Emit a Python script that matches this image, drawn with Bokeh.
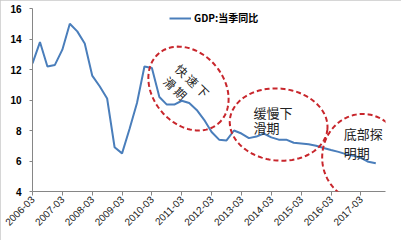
import numpy as np
from bokeh.plotting import figure
from bokeh.models import (Range1d, FixedTicker, Label, PolyAnnotation, Legend, LegendItem)
from bokeh.embed import file_html
from bokeh.resources import INLINE

# ---- data ----
years = list(range(2006, 2018))
months = ["03", "06", "09", "12"]
quarters = [f"{y}-{m}" for y in years for m in months]
gdp_yoy = [12.4, 13.8, 12.2, 12.3, 13.3, 15.0, 14.5, 13.7, 11.6, 10.9,
           10.1, 6.9, 6.5, 8.1, 9.8, 12.2, 12.1, 10.2, 9.7, 9.7,
           9.95, 9.8, 9.35, 8.7, 7.9, 7.4, 7.35, 8.0, 7.8, 7.5,
           7.6, 7.8, 7.55, 7.4, 7.4, 7.2, 7.15, 7.1, 7.0, 6.85,
           6.72, 6.6, 6.45, 6.35, 6.2, 5.95, 5.85]
series_name = "GDP:当季同比"
tick_labels = ["2006-03", "2007-03", "2008-03", "2009-03", "2010-03", "2011-03",
               "2012-03", "2013-03", "2014-03", "2015-03", "2016-03", "2017-03"]
y_ticks = [4, 6, 8, 10, 12, 14, 16]

W, H = 401, 240
L, R, T, B = 32, 16, 8, 49
XMAX = 47.3
p = figure(width=W, height=H, output_backend="svg", toolbar_location=None,
           x_range=Range1d(0, XMAX), y_range=Range1d(4, 16),
           min_border_left=L, min_border_right=R, min_border_top=T, min_border_bottom=B)
p.styles = {"outline": "2px solid #C8C8C8", "outline-offset": "-2px"}
p.outline_line_color = None
p.xgrid.visible = False
p.ygrid.visible = False
p.background_fill_color = "white"
p.border_fill_color = "white"

xs = list(range(len(gdp_yoy)))
r = p.line(xs, gdp_yoy, line_color="#4A7EBB", line_width=2)

# axes
tick_pos = [quarters.index(t) for t in tick_labels]
p.xaxis.ticker = FixedTicker(ticks=tick_pos)
p.xaxis.major_label_overrides = {i: t for i, t in zip(tick_pos, tick_labels)}
p.xaxis.major_label_orientation = np.pi / 4
p.xaxis.major_label_text_font = "Liberation Sans"
p.xaxis.major_label_text_font_size = "10px"
p.xaxis.major_label_text_color = "#222222"
p.xaxis.major_label_standoff = 2
p.xaxis.major_tick_out = 4
p.xaxis.major_tick_in = 0
p.xaxis.minor_tick_line_color = None
p.xaxis.axis_line_color = "#868686"
p.xaxis.major_tick_line_color = "#868686"

p.yaxis.ticker = FixedTicker(ticks=y_ticks)
p.yaxis.major_label_text_font = "Liberation Sans"
p.yaxis.major_label_text_font_style = "bold"
p.yaxis.major_label_text_font_size = "10px"
p.yaxis.major_label_text_color = "#000000"
p.yaxis.major_label_standoff = 8
p.yaxis.major_tick_out = 3
p.yaxis.major_tick_in = 0
p.yaxis.minor_tick_line_color = None
p.yaxis.axis_line_color = "#868686"
p.yaxis.major_tick_line_color = "#868686"

# pixel scale for annotation geometry
fw, fh = W - L - R, H - T - B
sx, sy = fw / XMAX, fh / 12.0

def ellipse_poly(cx, cy, a, b, theta_deg):
    t = np.linspace(0, 2 * np.pi, 120)
    th = np.deg2rad(theta_deg)
    dx = a * np.cos(t) * np.cos(th) - b * np.sin(t) * np.sin(th)
    dy = a * np.cos(t) * np.sin(th) + b * np.sin(t) * np.cos(th)
    return list(cx + dx / sx), list(cy + dy / sy)

ell_style = dict(fill_alpha=0, line_alpha=1.0, line_color="#C8262C", line_width=2,
                 line_dash="5 3")
for (cx, cy, a, b, th) in [(20.9, 10.75, 46, 35.4, -50), (32.98, 8.39, 49, 36, -6),
                           (44.24, 6.23, 40.5, 43.5, 0)]:
    ex, ey = ellipse_poly(cx, cy, a, b, th)
    p.add_layout(PolyAnnotation(xs=ex, ys=ey, **ell_style))

cjk = "Noto Sans CJK SC"
lab = dict(text_font=cjk, text_font_size="12px", text_color="#222222")
p.add_layout(Label(x=21.45, y=11.28, text="快 速 下", angle=-44, angle_units="deg",
                   text_align="center", text_baseline="middle", **lab))
p.add_layout(Label(x=19.17, y=10.8, text="滑 期", angle=-44, angle_units="deg",
                   text_align="center", text_baseline="middle", **lab))
lab2 = dict(text_font=cjk, text_font_size="13px", text_color="#222222",
            text_align="left", text_baseline="middle")
p.add_layout(Label(x=29.6, y=9.18, text="缓慢下", **lab2))
p.add_layout(Label(x=29.6, y=8.2, text="滑期", **lab2))
p.add_layout(Label(x=41.7, y=7.8, text="底部探", **lab2))
p.add_layout(Label(x=41.7, y=6.56, text="明期", **lab2))

# watermark
p.add_layout(Label(x=40.4, y=1.9, text="泽平宏观", text_font=cjk, text_font_size="14px",
                   text_color="#C8C8C8", text_baseline="middle"))

legend = Legend(items=[LegendItem(label=series_name, renderers=[r])],
                location=(131, 160), orientation="horizontal",
                label_text_font=cjk, label_text_font_style="bold",
                label_text_font_size="10px", label_text_color="#000000",
                glyph_width=22, glyph_height=10, label_height=10, label_standoff=3,
                padding=6, margin=0, background_fill_alpha=0, border_line_alpha=0)
p.add_layout(legend)

open("out.html", "w").write(file_html(p, INLINE))
